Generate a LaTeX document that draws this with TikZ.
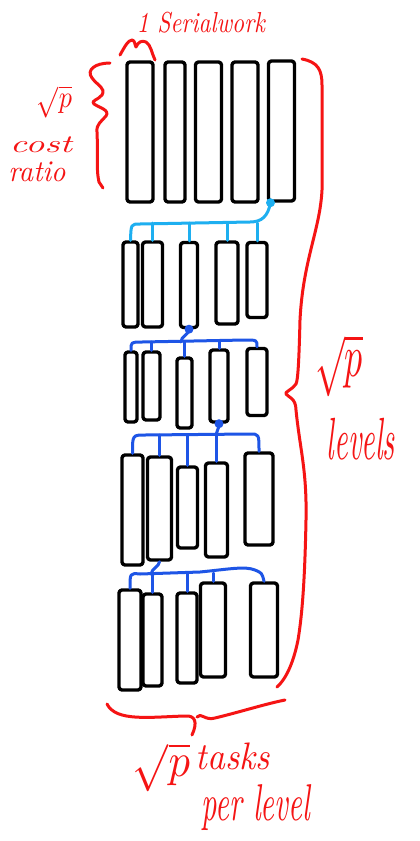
\documentclass[tikz,border=0pt]{standalone}
\usepackage{graphicx}
\usetikzlibrary{calc}
\definecolor{inkred}{RGB}{245,20,20}
\definecolor{lblue}{RGB}{30,175,240}
\definecolor{dblue}{RGB}{30,85,230}
\tikzset{
  box/.style={draw=black, line width=3.4pt, rounded corners=3pt, inner sep=0pt, line join=round},
  lb/.style={draw=lblue, line width=3pt, line cap=round, line join=round},
  db/.style={draw=dblue, line width=3pt, line cap=round, line join=round},
  redl/.style={draw=inkred, line width=3pt, line cap=round, line join=round},
  lbl/.style={text=inkred, inner sep=0pt, font=\itshape},
}
\begin{document}
\begin{tikzpicture}[x=1pt,y=-1pt]
\useasboundingbox[fill=white] (0,0) rectangle (420,841);

% level 1
\node[box, minimum width=26pt, minimum height=140pt] (a1) at (140,132) {};
\node[box, minimum width=20pt, minimum height=140pt] (a2) at (175,132) {};
\node[box, minimum width=26pt, minimum height=140pt] (a3) at (208.5,132) {};
\node[box, minimum width=26pt, minimum height=140pt] (a4) at (245,132) {};
\node[box, minimum width=26pt, minimum height=140pt] (a5) at (281.5,131) {};

% level 2
\node[box, minimum width=15pt, minimum height=85pt] (b1) at (130.5,284.5) {};
\node[box, minimum width=20pt, minimum height=85pt] (b2) at (152.5,284.5) {};
\node[box, minimum width=17pt, minimum height=85pt] (b3) at (189,285) {};
\node[box, minimum width=22pt, minimum height=82pt] (b4) at (227,283) {};
\node[box, minimum width=20pt, minimum height=75pt] (b5) at (257,280) {};

% level 3
\node[box, minimum width=12pt, minimum height=70pt] (c1) at (131,387) {};
\node[box, minimum width=17pt, minimum height=68pt] (c2) at (151.5,386) {};
\node[box, minimum width=15pt, minimum height=70pt] (c3) at (184.5,393) {};
\node[box, minimum width=18pt, minimum height=72pt] (c4) at (219,386) {};
\node[box, minimum width=20pt, minimum height=67pt] (c5) at (257,382) {};

% level 4
\node[box, minimum width=21pt, minimum height=110pt] (d1) at (132.5,510) {};
\node[box, minimum width=24pt, minimum height=103pt] (d2) at (159.5,508.5) {};
\node[box, minimum width=20pt, minimum height=81pt] (d3) at (187.5,507.5) {};
\node[box, minimum width=22pt, minimum height=94pt] (d4) at (216.5,510) {};
\node[box, minimum width=28pt, minimum height=92pt] (d5) at (259,499) {};

% level 5
\node[box, minimum width=22pt, minimum height=100pt] (e1) at (130,640) {};
\node[box, minimum width=19pt, minimum height=92pt] (e2) at (152.5,640) {};
\node[box, minimum width=20pt, minimum height=90pt] (e3) at (187,638) {};
\node[box, minimum width=25pt, minimum height=94pt] (e4) at (213,630) {};
\node[box, minimum width=27pt, minimum height=94pt] (e5) at (264,630) {};

% connectors level 1 -> 2
\coordinate (s1) at ([xshift=-11pt]a5.south);
\coordinate (bar1) at (0,223);
\fill[lblue] (s1) circle (4.5pt);
\draw[lb] (s1) .. controls (268,216) and (262,222) .. (250,222) -- (140,224) .. controls (131,224) .. (b1.north);
\foreach \n in {b2,b3,b4,b5} \draw[lb] (\n.north) -- (\n.north |- bar1);

% connectors level 2 -> 3
\coordinate (s2) at (b3.south);
\coordinate (bar2) at (0,342);
\fill[dblue] (s2) circle (4.5pt);
\draw[db] (s2) .. controls (188,336) and (181,336) .. (181,342);
\draw[db] (c1.north) .. controls (c1.north |- bar2) .. (142,342) -- (245,340) .. controls (257,340) .. (c5.north);
\foreach \n in {c2,c3,c4} \draw[db] (\n.north) -- (\n.north |- bar2);

% connectors level 3 -> 4
\coordinate (s3) at (c4.south);
\coordinate (bar3) at (0,435);
\fill[dblue] (s3) circle (4.5pt);
\draw[db] (s3) .. controls (219,430) and (216,431) .. (216,435);
\draw[db] (d1.north) .. controls (d1.north |- bar3) .. (145,435) -- (250,434) .. controls (259,434) .. (d5.north);
\foreach \n in {d2,d3,d4} \draw[db] (\n.north) -- (\n.north |- bar3);

% connectors level 4 -> 5
\coordinate (s4) at (d2.south);
\coordinate (bar4) at (0,573);
\draw[db] (s4) .. controls (159,567) and (152,568) .. (151,574);
\draw[db] (e1.north) .. controls (e1.north |- bar4) .. (140,574) -- (200,572) .. controls (230,569) and (245,566) .. (255,570) .. controls (262,573) .. (e5.north);
\foreach \n in {e2,e3,e4} \draw[db] (\n.north) -- (\n.north |- bar4);

% right brace
\draw[redl] (302,59) .. controls (318,62) and (322,70) .. (322,85) -- (322,190)
  .. controls (320,230) and (303,260) .. (300,320) .. controls (299,360) and (298,380) .. (296,384)
  .. controls (292,390) and (284,392) .. (286,394) .. controls (288,397) and (296,398) .. (296,410)
  .. controls (300,450) and (307,470) .. (306,520) .. controls (305,570) and (303,610) .. (298,640)
  .. controls (293,665) and (285,680) .. (277,687);

% left brace
\draw[redl] (110,63) .. controls (95,63) and (86,70) .. (92,78) .. controls (98,86) and (106,88) .. (102,95)
  .. controls (98,100) and (90,101) .. (94,104) .. controls (100,108) and (110,110) .. (106,116)
  .. controls (102,121) and (96,124) .. (97,132) .. controls (98,150) and (96,170) .. (99,182) -- (103,188);

% small top brace
\draw[redl] (120,55) .. controls (124,48) and (128,40) .. (132,40) .. controls (135,40) and (135,46) .. (136,47)
  .. controls (138,42) and (142,40) .. (146,42) .. controls (151,45) and (152,54) .. (155,60);

% bottom brace
\draw[redl] (107,704) .. controls (116,722) and (150,717) .. (185,716) .. controls (195,715) and (198,722) .. (192,735);
\draw[redl] (197,717) .. controls (201,712) and (205,721) .. (215,718) .. controls (240,712) and (265,704) .. (285,700);

% labels
\node[lbl] (t1) at (201,22.5) {\resizebox*{128pt}{21pt}{1 Serialwork}};
\node[lbl] (t2) at (54.5,102) {\resizebox*{35pt}{32pt}{$\sqrt{p}$}};
\node[lbl] (t3) at (41,145) {\resizebox*{62pt}{16pt}{cost}};
\node[lbl] (t4) at (37,172) {\resizebox*{57pt}{20pt}{ratio}};
\node[lbl] (t5) at (339,366) {\resizebox*{48pt}{62pt}{$\sqrt{p}$}};
\node[lbl] (t6) at (361,439) {\resizebox*{68pt}{42pt}{levels}};
\node[lbl] (t7) at (161.5,767.5) {\resizebox*{57pt}{49pt}{$\sqrt{p}$}};
\node[lbl] (t8) at (233,756) {\resizebox*{74pt}{27pt}{tasks}};
\node[lbl] (t9) at (256,808) {\resizebox*{108pt}{46pt}{per level}};
\end{tikzpicture}
\end{document}
